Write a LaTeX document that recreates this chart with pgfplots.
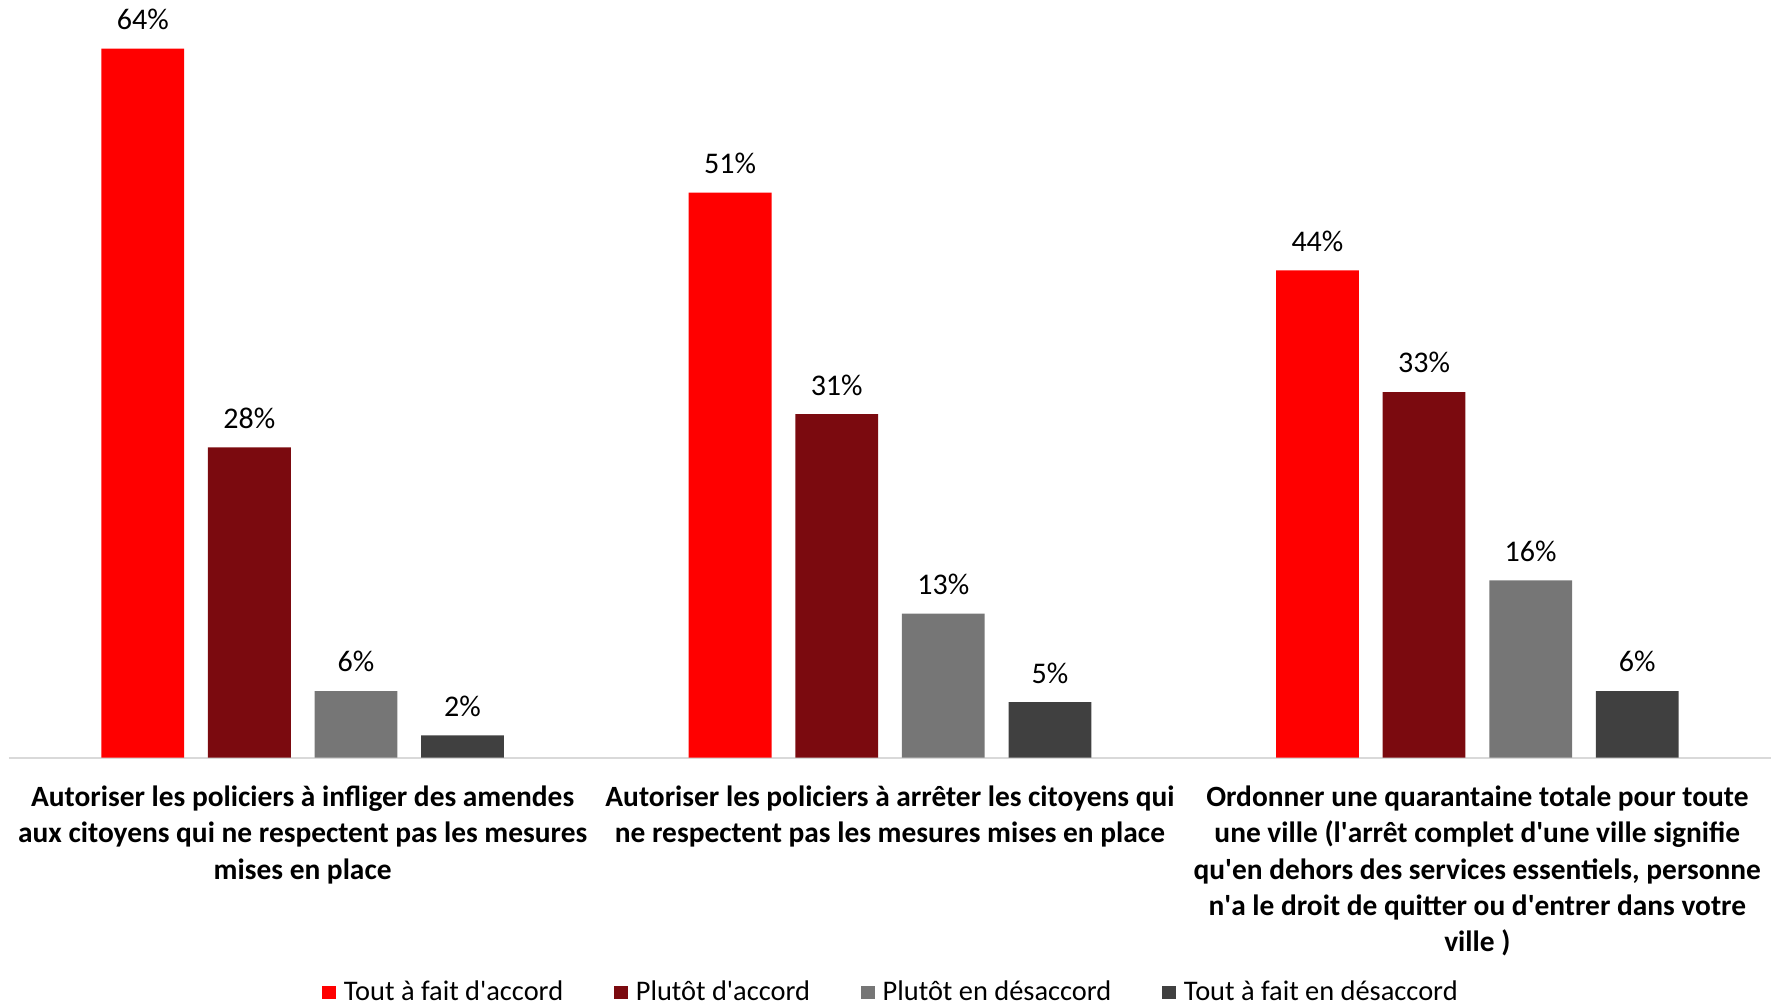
\documentclass[border=0pt]{standalone}
\usepackage{fontspec}
\setmainfont{Carlito}
\usepackage{pgfplots}
\pgfplotsset{compat=1.18}
\definecolor{c1}{HTML}{FF0000}
\definecolor{c2}{HTML}{7B0A0F}
\definecolor{c3}{HTML}{767676}
\definecolor{c4}{HTML}{404040}
\definecolor{axc}{HTML}{D9D9D9}
\newcommand{\q}{\textquotesingle}
\begin{document}
\begin{tikzpicture}
\begin{axis}[
 at={(0,0)}, anchor=south west,
 scale only axis, width=881pt, height=378.8pt,
 xmin=-0.5, xmax=2.5, ymin=0, ymax=68.4,
 axis x line=bottom, axis y line=none,
 x axis line style={-, draw=axc, line width=0.9pt},
 xtick={0,1,2},
 xticklabels={{Autoriser les policiers à infliger des amendes\\aux citoyens qui ne respectent pas les mesures\\mises en place},
 {Autoriser les policiers à arrêter les citoyens qui\\ne respectent pas les mesures mises en place},
 {Ordonner une quarantaine totale pour toute\\une ville (l\q arrêt complet d\q une ville signifie\\qu\q en dehors des services essentiels, personne\\n\q a le droit de quitter ou d\q entrer dans votre\\ville )}},
 major tick length=0pt,
 xticklabel style={font=\bfseries\fontsize{14.7}{18.1}\selectfont, align=center, inner sep=0pt, yshift=-14pt, anchor=north},
 ytick=\empty,
 ybar, bar width=41.4pt,
 point meta=explicit symbolic,
 nodes near coords,
 every node near coord/.append style={font=\fontsize{15}{18.1}\selectfont, inner sep=0pt, yshift=9.25pt},
 clip=false,
 legend columns=4,
 legend style={at={(0.5,-0.310)}, anchor=center, draw=none, fill=none, inner sep=0pt,
   font=\fontsize{14.2}{17}\selectfont,
   /tikz/every even column/.append style={column sep=25.5pt},
   /tikz/every odd column/.append style={column sep=4pt},
   nodes={inner sep=0pt}},
 legend image code/.code={\path[#1,draw=none] (0pt,-3.4pt) rectangle (6.8pt,3.4pt);},
]
\addplot[fill=c1, draw=none, bar shift=-79.95pt] coordinates {(0,64)[64\%] (1,51)[51\%] (2,44)[44\%]};
\addplot[fill=c2, draw=none, bar shift=-26.65pt] coordinates {(0,28)[28\%] (1,31)[31\%] (2,33)[33\%]};
\addplot[fill=c3, draw=none, bar shift=26.65pt] coordinates {(0,6)[6\%] (1,13)[13\%] (2,16)[16\%]};
\addplot[fill=c4, draw=none, bar shift=79.95pt] coordinates {(0,2)[2\%] (1,5)[5\%] (2,6)[6\%]};
\legend{Tout à fait d\q accord, Plutôt d\q accord, Plutôt en désaccord, Tout à fait en désaccord}
\end{axis}
\pgfresetboundingbox
\path[use as bounding box] (-4.5pt,-124.2pt) rectangle (883pt,378.8pt);
\end{tikzpicture}
\end{document}
